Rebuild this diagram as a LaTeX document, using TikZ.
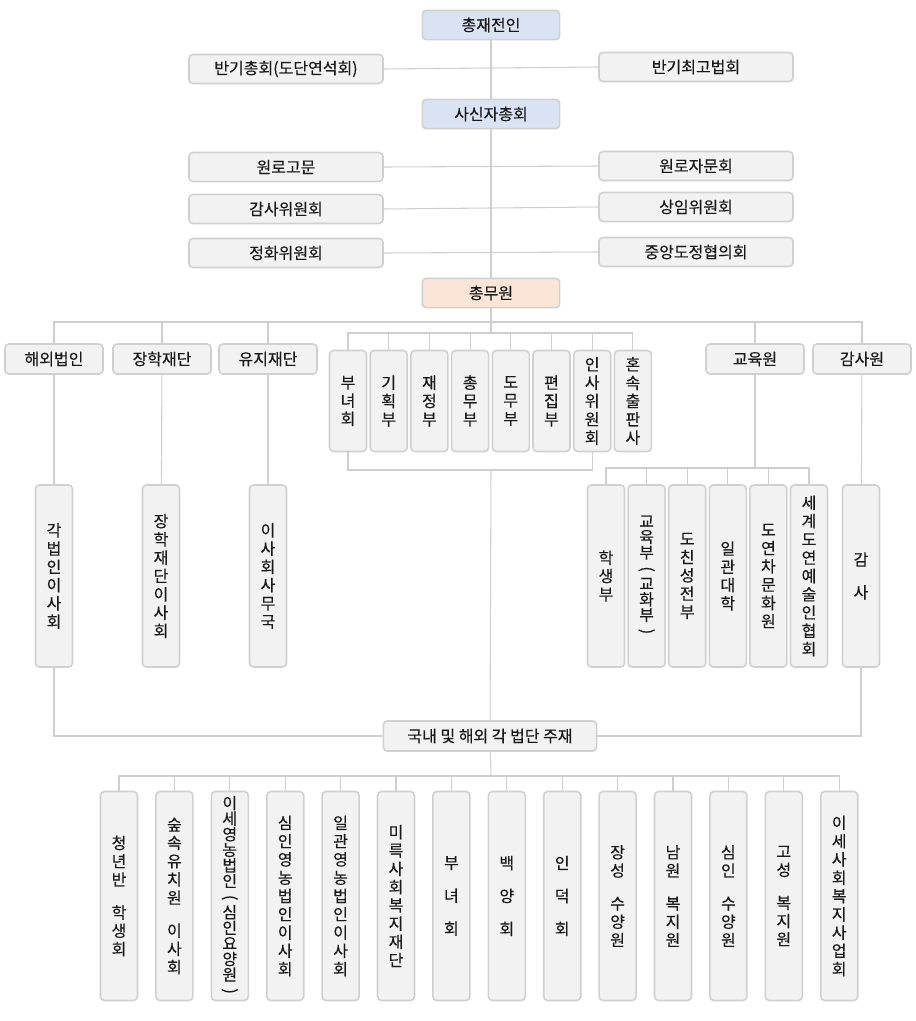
\documentclass[tikz,border=0pt]{standalone}
\usepackage{fontspec}
\usepackage{graphicx}
\setmainfont{Noto Sans CJK KR}[FakeBold=0.3]
\usetikzlibrary{backgrounds}

\definecolor{boxfill}{HTML}{F2F2F2}
\definecolor{boxline}{HTML}{D0D0D0}
\definecolor{headfill}{HTML}{DAE3F3}
\definecolor{adminfill}{HTML}{FBE5D6}
\definecolor{connline}{HTML}{CFCFCF}
\definecolor{txt}{HTML}{1A1A1A}

\newcommand\vgap{\\[11pt]}
\newcommand\vtight{\\[-2pt]}
\newcommand\lpar{\rotatebox[origin=c]{-90}{(}}
\newcommand\rpar{\rotatebox[origin=c]{-90}{)}}

\tikzset{
    orgbox/.style={draw=boxline,line width=1.2pt,fill=boxfill,rounded corners=3pt,
        inner sep=0pt,align=center,text=txt,font=\fontsize{12}{13.7}\selectfont},
    widebox/.style={orgbox,minimum width=145.5pt,minimum height=21.75pt},
    headbox/.style={orgbox,fill=headfill,minimum width=103pt,minimum height=22pt},
    topbox/.style={orgbox,minimum width=73.5pt,minimum height=22.5pt},
    deptbox/.style={orgbox,minimum width=27.75pt,minimum height=75.75pt},
    tallbox/.style={orgbox,minimum width=27.75pt,minimum height=136.5pt},
    bottombox/.style={orgbox,minimum width=27.75pt,minimum height=156.75pt},
    conn/.style={draw=connline,line width=0.8pt}
}

\begin{document}
\begin{tikzpicture}[x=0.75pt,y=-0.75pt]
    \useasboundingbox (0,0) rectangle (916,1021);

    % top of the chart
    \node[headbox] (head) at (491,25) {총재전인};
    \node[widebox] (bgen) at (286,69) {반기총회(도단연석회)};
    \node[widebox] (bsup) at (696,67) {반기최고법회};
    \node[headbox] (assembly) at (491,114) {사신자총회};
    \node[widebox] (elder) at (286,167) {원로고문};
    \node[widebox] (eldc) at (696,166) {원로자문회};
    \node[widebox] (audc) at (286,209) {감사위원회};
    \node[widebox] (stand) at (696,207) {상임위원회};
    \node[widebox] (purif) at (286,253) {정화위원회};
    \node[widebox] (central) at (696,252) {중앙도정협의회};
    \node[headbox,fill=adminfill] (admin) at (491,293) {총무원};

    % second level
    \node[topbox] (overseas) at (54,359) {해외법인};
    \node[topbox] (scholar) at (162,359) {장학재단};
    \node[topbox] (found) at (268,359) {유지재단};
    \node[topbox] (edu) at (755,359) {교육원};
    \node[topbox] (audit) at (862,359) {감사원};

    \foreach \t [count=\i] in {부\\녀\\회, 기\\획\\부, 재\\정\\부, 총\\무\\부, 도\\무\\부,
            편\\집\\부, 인\\사\\위\\원\\회, 혼\\속\\출\\판\\사}
        \node[deptbox] (d\i) at ({348+40.7*(\i-1)},401) {\t};

    \node[tallbox] (obrd) at (54,576) {각\\법\\인\\이\\사\\회};
    \node[tallbox] (sbrd) at (161,576) {장\\학\\재\\단\\이\\사\\회};
    \node[tallbox] (foff) at (268,576) {이\\사\\회\\사\\무\\국};

    \foreach \t [count=\i] in {학\\생\\부,
            교\vtight 육\vtight 부\vtight\lpar\vtight 교\vtight 화\vtight 부\vtight\rpar,
            도\\친\\성\\전\\부, 일\\관\\대\\학, 도\\연\\차\\문\\화\\원,
            세\\계\\도\\연\\예\\술\\인\\협\\회}
        \node[tallbox] (e\i) at ({606+40.6*(\i-1)},576) {\t};
    \node[tallbox] (aud) at (861,576) {감\vgap 사};

    \node[orgbox,minimum width=160pt,minimum height=22.5pt] (local) at (490,736) {국내 및 해외 각 법단 주재};

    \foreach \t [count=\i] in {청\\년\\반\vgap 학\\생\\회, 숲\\속\\유\\치\\원\vgap 이\\사\\회,
            이\vtight 세\vtight 영\vtight 농\vtight 법\vtight 인\vtight\lpar\vtight 심\vtight 인\vtight 요\vtight 양\vtight 원\vtight\rpar,
            심\\인\\영\\농\\법\\인\\이\\사\\회, 일\\관\\영\\농\\법\\인\\이\\사\\회,
            미\\륵\\사\\회\\복\\지\\재\\단, 부\vgap 녀\vgap 회, 백\vgap 양\vgap 회,
            인\vgap 덕\vgap 회, 장\\성\vgap 수\\양\\원, 남\\원\vgap 복\\지\\원,
            심\\인\vgap 수\\양\\원, 고\\성\vgap 복\\지\\원, 이\\세\\사\\회\\복\\지\\사\\업\\회}
        \node[bottombox] (b\i) at ({119+55.4*(\i-1)},896) {\t};

    % connectors
    \coordinate (tbus) at (491,322);
    \coordinate (dbus) at (491,333);
    \coordinate (dlow) at (491,470);
    \coordinate (ebus) at (755,468);
    \coordinate (lbus) at (491,776);

    \begin{scope}[on background layer]
        \draw[conn] (head) -- (assembly);
        \draw[conn] (assembly) -- (admin);
        \draw[conn] (bgen.east) -- (bsup.west);
        \draw[conn] (elder.east) -- (eldc.west);
        \draw[conn] (audc.east) -- (stand.west);
        \draw[conn] (purif.east) -- (central.west);

        \draw[conn] (admin) -- (dbus);
        \draw[conn] (overseas.north) |- (tbus) -| (audit.north);
        \draw[conn] (scholar.north) -- (scholar.north |- tbus);
        \draw[conn] (found.north) -- (found.north |- tbus);
        \draw[conn] (edu.north) -- (edu.north |- tbus);

        \draw[conn] (d1.north) |- (dbus) -| (d8.north);
        \foreach \i in {2,...,7}
            \draw[conn] (d\i.north) -- (d\i.north |- dbus);
        \draw[conn] (d1.south) |- (dlow) -| (d7.south);
        \draw[conn] (dlow) -- (local);

        \draw[conn] (overseas) -- (obrd);
        \draw[conn] (scholar) -- (sbrd);
        \draw[conn] (found) -- (foff);
        \draw[conn] (obrd.south) |- (local.west);

        \draw[conn] (edu) -- (ebus);
        \draw[conn] (e1.north) |- (ebus) -| (e6.north);
        \foreach \i in {2,...,5}
            \draw[conn] (e\i.north) -- (e\i.north |- ebus);
        \draw[conn] (audit) -- (aud);
        \draw[conn] (aud.south) |- (local.east);

        \draw[conn] (local) -- (lbus);
        \draw[conn] (b1.north) |- (lbus) -| (b14.north);
        \foreach \i in {2,...,13}
            \draw[conn] (b\i.north) -- (b\i.north |- lbus);
    \end{scope}
\end{tikzpicture}
\end{document}
